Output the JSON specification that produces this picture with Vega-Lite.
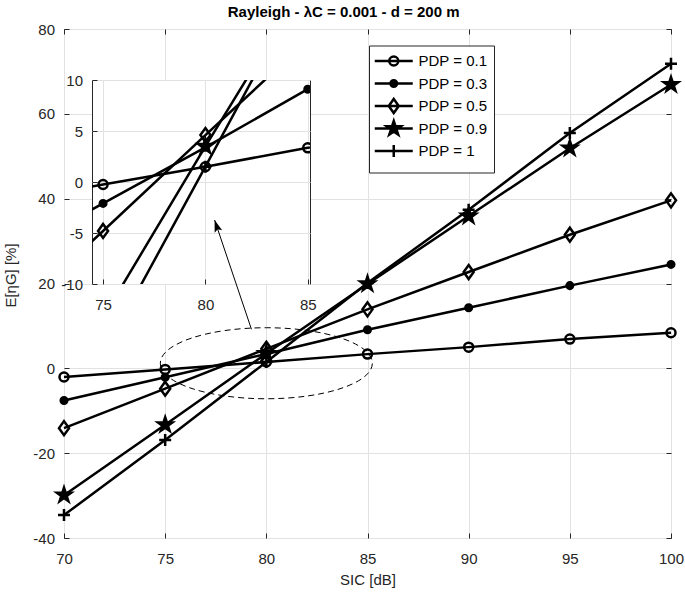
{
  "$schema": "https://vega.github.io/schema/vega-lite/v6.json",
  "background": "white",
  "padding": {"left": 3, "top": 4, "right": 5, "bottom": 2},
  "title": {"text": "Rayleigh - λC = 0.001 - d = 200 m", "font": "Liberation Sans", "fontSize": 15, "fontWeight": "bold", "color": "black", "anchor": "middle", "baseline": "alphabetic", "offset": -10},
  "datasets": {
    "curves": [
      {"series": "PDP = 0.1", "sic": 70, "value": -2.05},
      {"series": "PDP = 0.1", "sic": 75, "value": -0.25},
      {"series": "PDP = 0.1", "sic": 80, "value": 1.5},
      {"series": "PDP = 0.1", "sic": 85, "value": 3.35},
      {"series": "PDP = 0.1", "sic": 90, "value": 5.0},
      {"series": "PDP = 0.1", "sic": 95, "value": 6.9},
      {"series": "PDP = 0.1", "sic": 100, "value": 8.4},
      {"series": "PDP = 0.3", "sic": 70, "value": -7.6},
      {"series": "PDP = 0.3", "sic": 75, "value": -2.1},
      {"series": "PDP = 0.3", "sic": 80, "value": 3.4},
      {"series": "PDP = 0.3", "sic": 85, "value": 9.1},
      {"series": "PDP = 0.3", "sic": 90, "value": 14.3},
      {"series": "PDP = 0.3", "sic": 95, "value": 19.5},
      {"series": "PDP = 0.3", "sic": 100, "value": 24.5},
      {"series": "PDP = 0.5", "sic": 70, "value": -14.1},
      {"series": "PDP = 0.5", "sic": 75, "value": -4.8},
      {"series": "PDP = 0.5", "sic": 80, "value": 4.6},
      {"series": "PDP = 0.5", "sic": 85, "value": 13.9},
      {"series": "PDP = 0.5", "sic": 90, "value": 22.7},
      {"series": "PDP = 0.5", "sic": 95, "value": 31.5},
      {"series": "PDP = 0.5", "sic": 100, "value": 39.6},
      {"series": "PDP = 0.9", "sic": 70, "value": -29.9},
      {"series": "PDP = 0.9", "sic": 75, "value": -13.3},
      {"series": "PDP = 0.9", "sic": 80, "value": 3.5},
      {"series": "PDP = 0.9", "sic": 85, "value": 19.9},
      {"series": "PDP = 0.9", "sic": 90, "value": 35.9},
      {"series": "PDP = 0.9", "sic": 95, "value": 51.9},
      {"series": "PDP = 0.9", "sic": 100, "value": 66.9},
      {"series": "PDP = 1", "sic": 70, "value": -34.6},
      {"series": "PDP = 1", "sic": 75, "value": -16.9},
      {"series": "PDP = 1", "sic": 80, "value": 1.5},
      {"series": "PDP = 1", "sic": 85, "value": 20.1},
      {"series": "PDP = 1", "sic": 90, "value": 37.4},
      {"series": "PDP = 1", "sic": 95, "value": 55.5},
      {"series": "PDP = 1", "sic": 100, "value": 71.8}
    ]
  },
  "columns": 1,
  "align": "none",
  "bounds": "flush",
  "spacing": -458,
  "resolve": {"scale": {"shape": "independent", "fill": "independent"}, "legend": {"shape": "independent", "fill": "independent"}},
  "concat": [
    {
      "width": 607,
      "height": 509,
      "view": {"stroke": "#262626", "strokeWidth": 1},
      "resolve": {"scale": {"shape": "independent", "fill": "independent"}, "legend": {"shape": "independent", "fill": "independent"}, "axis": {"x": "independent", "y": "independent"}},
      "layer": [
        {
          "data": {"name": "curves"},
          "mark": {"type": "line", "color": "black", "strokeWidth": 2.5},
          "encoding": {
            "x": {"field": "sic", "type": "quantitative", "scale": {"domain": [70, 100], "nice": false, "zero": false},
                  "axis": {"values": [70, 75, 80, 85, 90, 95, 100], "title": "SIC [dB]", "labelPadding": 18, "titlePadding": 6}},
            "y": {"field": "value", "type": "quantitative", "scale": {"domain": [-40, 80], "nice": false, "zero": false},
                  "axis": {"values": [-40, -20, 0, 20, 40, 60, 80], "title": "E[ηG] [%]", "labelExpr": "'' + datum.value", "labelPadding": 14.5, "titlePadding": 14, "titleY": 246}},
            "detail": {"field": "series"}
          }
        },
        {
          "data": {"name": "curves"},
          "mark": {"type": "point", "stroke": "black", "strokeWidth": 2.5, "size": 256, "opacity": 1, "filled": true},
          "encoding": {
            "x": {"field": "sic", "type": "quantitative", "axis": null},
            "y": {"field": "value", "type": "quantitative", "axis": null},
            "shape": {"field": "series", "type": "nominal",
              "scale": {"domain": ["PDP = 0.1", "PDP = 0.3", "PDP = 0.5", "PDP = 0.9", "PDP = 1"],
                        "range": ["M-0.5625,0A0.5625,0.5625 0 1,0 0.5625,0A0.5625,0.5625 0 1,0 -0.5625,0Z",
                                  "M-0.41,0A0.41,0.41 0 1,0 0.41,0A0.41,0.41 0 1,0 -0.41,0Z",
                                  "M0,-0.875L0.625,0L0,0.875L-0.625,0Z",
                                  "M0,-0.94L0.211,-0.29L0.894,-0.29L0.341,0.111L0.553,0.76L0,0.359L-0.553,0.76L-0.341,0.111L-0.894,-0.29L-0.211,-0.29Z",
                                  "M-0.75,0H0.75M0,-0.75V0.75"]},
              "legend": null},
            "fill": {"field": "series", "type": "nominal",
              "scale": {"domain": ["PDP = 0.1", "PDP = 0.3", "PDP = 0.5", "PDP = 0.9", "PDP = 1"],
                        "range": ["transparent", "black", "transparent", "black", "transparent"]},
              "legend": null}
          }
        },
        {
          "data": {"name": "curves"},
          "transform": [{"filter": "false"}],
          "mark": {"type": "point", "stroke": "black", "strokeWidth": 2.5, "size": 256, "opacity": 1, "filled": true},
          "encoding": {
            "x": {"field": "sic", "type": "quantitative", "axis": {"orient": "top", "values": [70, 75, 80, 85, 90, 95, 100], "labels": false, "grid": false, "title": null}},
            "y": {"field": "value", "type": "quantitative", "axis": {"orient": "right", "values": [-40, -20, 0, 20, 40, 60, 80], "labels": false, "grid": false, "title": null}},
            "shape": {"field": "series", "type": "nominal",
              "scale": {"domain": ["PDP = 0.1", "PDP = 0.3", "PDP = 0.5", "PDP = 0.9", "PDP = 1"],
                        "range": ["M0,-1.2M0,1.2M-2.375,0H2.375M-0.5625,0A0.5625,0.5625 0 1,0 0.5625,0A0.5625,0.5625 0 1,0 -0.5625,0Z",
                                  "M0,-1.2M0,1.2M-2.375,0H2.375M-0.41,0A0.41,0.41 0 1,0 0.41,0A0.41,0.41 0 1,0 -0.41,0Z",
                                  "M0,-1.2M0,1.2M-2.375,0H2.375M0,-0.875L0.625,0L0,0.875L-0.625,0Z",
                                  "M0,-1.2M0,1.2M-2.375,0H2.375M0,-0.94L0.211,-0.29L0.894,-0.29L0.341,0.111L0.553,0.76L0,0.359L-0.553,0.76L-0.341,0.111L-0.894,-0.29L-0.211,-0.29Z",
                                  "M0,-1.2M0,1.2M-2.375,0H2.375M-0.75,0H0.75M0,-0.75V0.75"]},
              "legend": {"title": null, "orient": "none", "legendX": 305, "legendY": 16.5, "symbolSize": 256, "symbolOffset": 9.25, "labelOffset": 15.25}},
            "fill": {"field": "series", "type": "nominal",
              "scale": {"domain": ["PDP = 0.1", "PDP = 0.3", "PDP = 0.5", "PDP = 0.9", "PDP = 1"],
                        "range": ["transparent", "black", "transparent", "black", "transparent"]},
              "legend": {"title": null, "orient": "none", "legendX": 305, "legendY": 16.5, "symbolSize": 256, "symbolOffset": 9.25, "labelOffset": 15.25}}
          }
        },
        {
          "data": {"name": "curves"},
          "transform": [{"filter": "datum.sic == 80 && datum.series == 'PDP = 0.1'"}],
          "mark": {"type": "point", "shape": "M-1,0A1,0.335 0 1,0 1,0A1,0.335 0 1,0 -1,0Z", "size": 44944, "color": "black", "filled": false, "strokeWidth": 1, "strokeDash": [6, 4], "opacity": 1},
          "encoding": {"x": {"datum": 80, "type": "quantitative", "axis": null}, "y": {"datum": 1.2, "type": "quantitative", "axis": null}}
        }
      ]
    },
    {
      "bounds": "flush",
      "spacing": 0,
      "resolve": {"scale": {"shape": "independent", "fill": "independent"}, "legend": {"shape": "independent", "fill": "independent"}},
      "hconcat": [
        {"width": 28, "height": 10, "data": {"values": []}, "mark": "point", "view": {"stroke": "transparent"}},
        {
          "width": 218,
          "height": 204,
          "view": {"fill": "white", "stroke": "#262626", "strokeWidth": 1},
          "layer": [
            {
              "data": {"name": "curves"},
              "mark": {"type": "line", "color": "black", "strokeWidth": 2.5, "clip": true},
              "encoding": {
                "x": {"field": "sic", "type": "quantitative", "scale": {"domain": [74.46, 85.11], "nice": false, "zero": false},
                      "axis": {"values": [75, 80, 85], "title": null, "labelPadding": 18}},
                "y": {"field": "value", "type": "quantitative", "scale": {"domain": [-10, 10], "nice": false, "zero": false},
                      "axis": {"values": [-10, -5, 0, 5, 10], "title": null, "labelExpr": "'' + datum.value", "labelPadding": 14.5}},
                "detail": {"field": "series"}
              }
            },
            {
              "data": {"name": "curves"},
              "mark": {"type": "point", "stroke": "black", "strokeWidth": 2.5, "size": 256, "opacity": 1, "filled": true, "clip": true},
              "encoding": {
                "x": {"field": "sic", "type": "quantitative"},
                "y": {"field": "value", "type": "quantitative"},
                "shape": {"field": "series", "type": "nominal",
                  "scale": {"domain": ["PDP = 0.1", "PDP = 0.3", "PDP = 0.5", "PDP = 0.9", "PDP = 1"],
                            "range": ["M-0.5625,0A0.5625,0.5625 0 1,0 0.5625,0A0.5625,0.5625 0 1,0 -0.5625,0Z",
                                      "M-0.41,0A0.41,0.41 0 1,0 0.41,0A0.41,0.41 0 1,0 -0.41,0Z",
                                      "M0,-0.875L0.625,0L0,0.875L-0.625,0Z",
                                      "M0,-0.94L0.211,-0.29L0.894,-0.29L0.341,0.111L0.553,0.76L0,0.359L-0.553,0.76L-0.341,0.111L-0.894,-0.29L-0.211,-0.29Z",
                                      "M-0.75,0H0.75M0,-0.75V0.75"]},
                  "legend": null},
                "fill": {"field": "series", "type": "nominal",
                  "scale": {"domain": ["PDP = 0.1", "PDP = 0.3", "PDP = 0.5", "PDP = 0.9", "PDP = 1"],
                            "range": ["transparent", "black", "transparent", "black", "transparent"]},
                  "legend": null}
              }
            },
            {
              "data": {"values": [{}]},
              "mark": {"type": "rule", "color": "black", "strokeWidth": 1},
              "encoding": {"x": {"datum": 82.25, "type": "quantitative"}, "y": {"datum": -14.44, "type": "quantitative"}, "x2": {"datum": 80.45}, "y2": {"datum": -3.73}}
            },
            {
              "data": {"name": "curves"},
              "transform": [{"filter": "datum.sic == 80 && datum.series == 'PDP = 0.1'"}],
              "mark": {"type": "point", "shape": "M0,0L0.33,1L0,0.8L-0.33,1Z", "size": 576, "angle": -18.45, "filled": true, "color": "black", "opacity": 1},
              "encoding": {"x": {"datum": 80.45, "type": "quantitative"}, "y": {"datum": -3.73, "type": "quantitative"}}
            }
          ]
        }
      ]
    }
  ],
  "config": {
    "font": "Liberation Sans",
    "axis": {"labelFont": "Liberation Sans", "labelFontSize": 15, "labelColor": "#262626", "titleFont": "Liberation Sans", "titleFontSize": 15, "titleFontWeight": "normal", "titleColor": "#262626",
             "gridColor": "#e2e2e2", "grid": true, "domain": false, "tickColor": "#262626", "tickSize": -5, "tickWidth": 1, "labelFlush": false, "labelOverlap": false},
    "legend": {"labelFont": "Liberation Sans", "labelFontSize": 15, "labelColor": "black", "strokeColor": "#262626", "fillColor": "white", "padding": 6, "symbolStrokeWidth": 2.5, "rowPadding": -8.5, "gridAlign": "none"},
    "view": {"stroke": "#262626"}
  }
}
